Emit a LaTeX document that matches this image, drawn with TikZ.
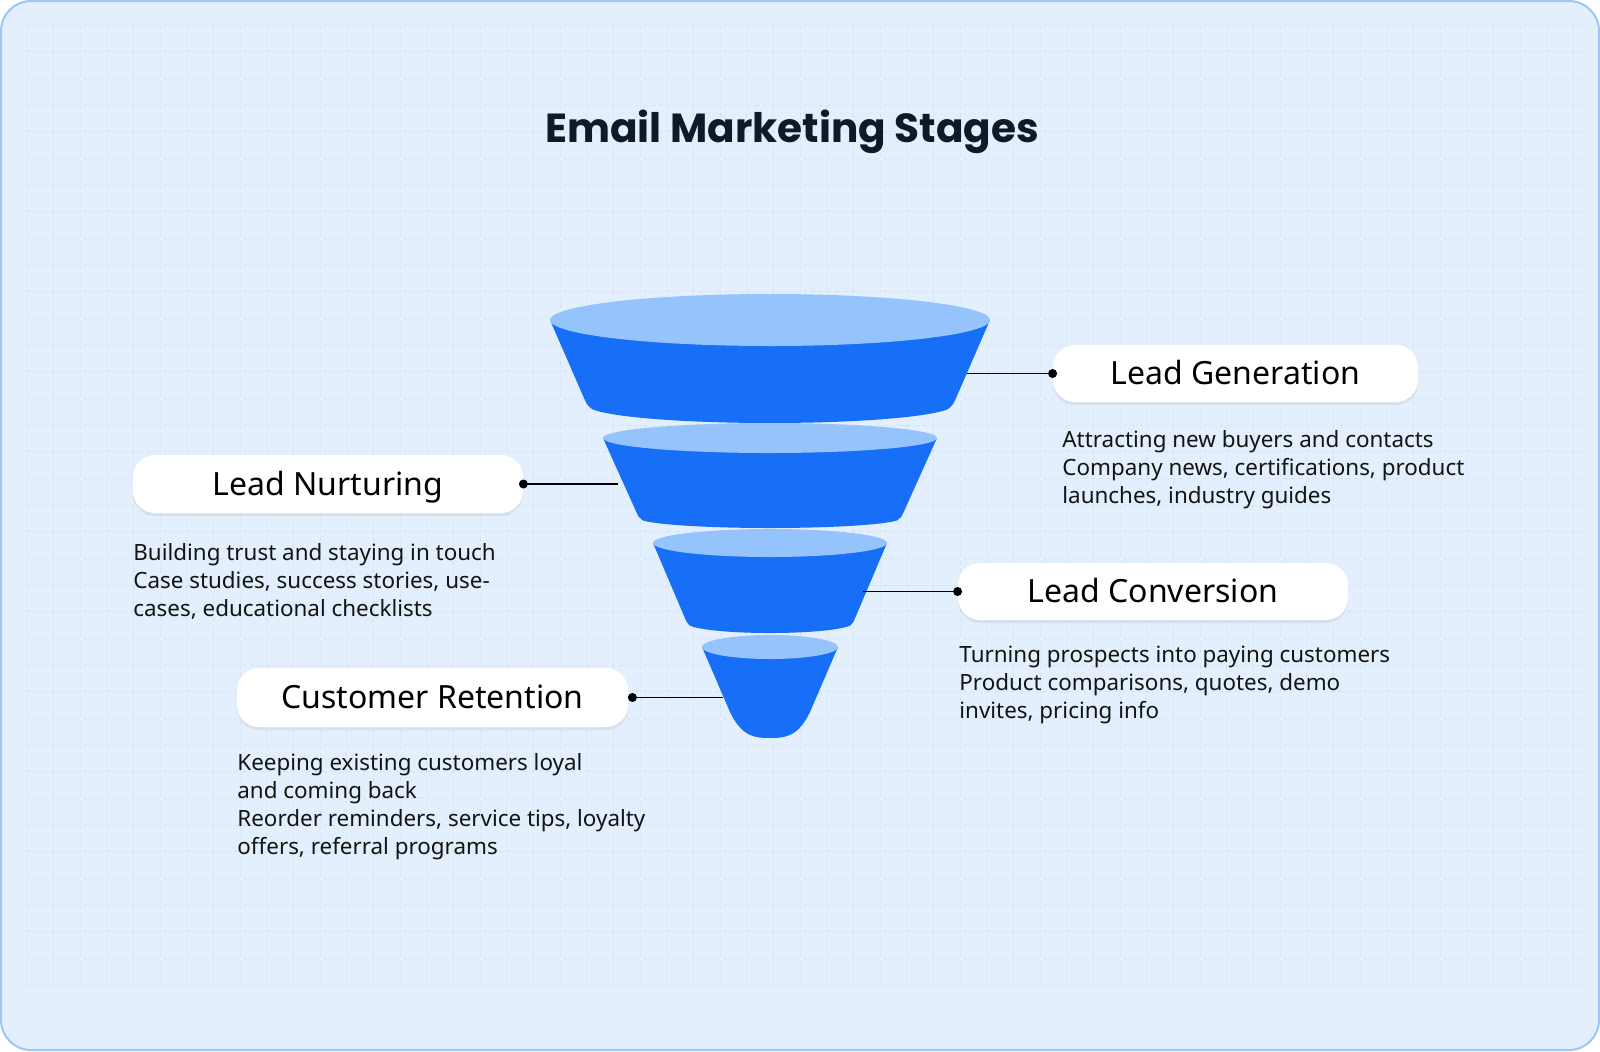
\documentclass[tikz,border=0pt]{standalone}
\usepackage{fontspec}
\setmainfont{Noto Sans}
\newfontfamily\titlefont{Poppins}
\usetikzlibrary{shadows}
\definecolor{bgc}{HTML}{E3EFFD}
\definecolor{framec}{HTML}{9DC6F6}
\definecolor{gridc}{HTML}{D3E3F6}
\definecolor{fdark}{HTML}{176EF7}
\definecolor{flight}{HTML}{95C3FB}
\definecolor{titlec}{HTML}{111827}
\definecolor{txtc}{HTML}{141414}
\tikzset{
  stagebox/.style={draw=none, fill=white, rounded corners=11pt, inner sep=0pt,
    font=\fontsize{16}{19}\selectfont, text=black, text height=11.4pt, text depth=0pt,
    drop shadow={shadow xshift=0pt, shadow yshift=-1.5pt, opacity=0.12}},
  desc/.style={anchor=base west, align=left, inner sep=0pt,
    font=\fontsize{11.2}{14}\selectfont, text=txtc},
  link/.style={line width=0.75pt, draw=black},
}
\newcommand{\fseg}[7]{%
  \pgfmathsetmacro{\fsDx}{#3-#6}%
  \pgfmathsetmacro{\fsDy}{#5-#2}%
  \pgfmathsetmacro{\fsL}{sqrt(\fsDx*\fsDx+\fsDy*\fsDy)}%
  \pgfmathsetmacro{\fsQx}{#6+12*\fsDx/\fsL}%
  \pgfmathsetmacro{\fsQy}{#5-12*\fsDy/\fsL}%
  \pgfmathsetmacro{\fsTx}{#6*cos(14)}%
  \pgfmathsetmacro{\fsTy}{#5+#7*sin(14)}%
  \fill[fdark] (#1-#3,#2) -- (#1-\fsQx,\fsQy) .. controls (#1-#6,#5) .. (#1-\fsTx,\fsTy)
    arc[start angle=166, end angle=14, x radius=#6, y radius=#7]
    .. controls (#1+#6,#5) .. (#1+\fsQx,\fsQy) -- (#1+#3,#2) -- cycle;
  \fill[flight] (#1,#2) ellipse[x radius=#3, y radius=#4];
}
\begin{document}
\begin{tikzpicture}[x=0.5pt,y=-0.5pt]
\useasboundingbox (0,0) rectangle (1600,1051);
\fill[bgc, rounded corners=15pt] (1,1) rectangle (1599,1050);
\foreach \i in {1,...,59}
  \draw[gridc, line width=0.4pt, dash pattern=on 2pt off 2pt] (\i*26.667,25) -- (\i*26.667,985);
\foreach \j in {0,...,36}
  \draw[gridc, line width=0.4pt, dash pattern=on 2pt off 2pt] (27,25+\j*26.667) -- (1590,25+\j*26.667);
\draw[framec, line width=1pt, rounded corners=15pt] (1,1) rectangle (1599,1050);

\node[anchor=base, font=\titlefont\bfseries\fontsize{20.3}{24}\selectfont, text=titlec] (title) at (792,142) {Email Marketing Stages};

% funnel
\fseg{770}{320}{220}{26}{405}{183}{18}
\fseg{770}{438}{167}{15}{518}{131}{10}
\fseg{770}{543}{117}{14}{623}{83}{10}
\fill[fdark] (702,647) -- (730,712) .. controls (742,737) and (755,738) .. (770,738)
  .. controls (785,738) and (798,737) .. (810,712) -- (838,647) -- cycle;
\fill[flight] (770,647) ellipse[x radius=68, y radius=12];

\coordinate (pLG) at (967,373.5);
\coordinate (pLN) at (618,484);
\coordinate (pLC) at (863,591.5);
\coordinate (pCR) at (723,697.5);

\node[stagebox, minimum width=182.5pt, minimum height=28.5pt] (LG) at (1235.5,373.5) {Lead Generation};
\node[stagebox, minimum width=195pt, minimum height=29pt] (LN) at (328,484) {Lead Nurturing};
\node[stagebox, minimum width=195pt, minimum height=28.5pt] (LC) at (1153,591.5) {Lead Conversion};
\node[stagebox, minimum width=195.5pt, minimum height=29.5pt] (CR) at (432.5,697.5) {Customer Retention};

\draw[link] (pLG) -- (LG.west);
\fill (LG.west) circle[radius=4.5];
\draw[link] (pLN) -- (LN.east);
\fill (LN.east) circle[radius=4.5];
\draw[link] (pLC) -- (LC.west);
\fill (LC.west) circle[radius=4.5];
\draw[link] (pCR) -- ([xshift=2pt]CR.east);
\fill ([xshift=2pt]CR.east) circle[radius=4.5];

\node[desc] (dLG) at (1062,503) {Attracting new buyers and contacts\\Company news, certifications, product\\launches, industry guides};
\node[desc] (dLN) at (133,616) {Building trust and staying in touch\\Case studies, success stories, use-\\cases, educational checklists};
\node[desc] (dLC) at (959,718) {Turning prospects into paying customers\\Product comparisons, quotes, demo\\invites, pricing info};
\node[desc] (dCR) at (237,854) {Keeping existing customers loyal\\and coming back\\Reorder reminders, service tips, loyalty\\offers, referral programs};
\end{tikzpicture}
\end{document}
